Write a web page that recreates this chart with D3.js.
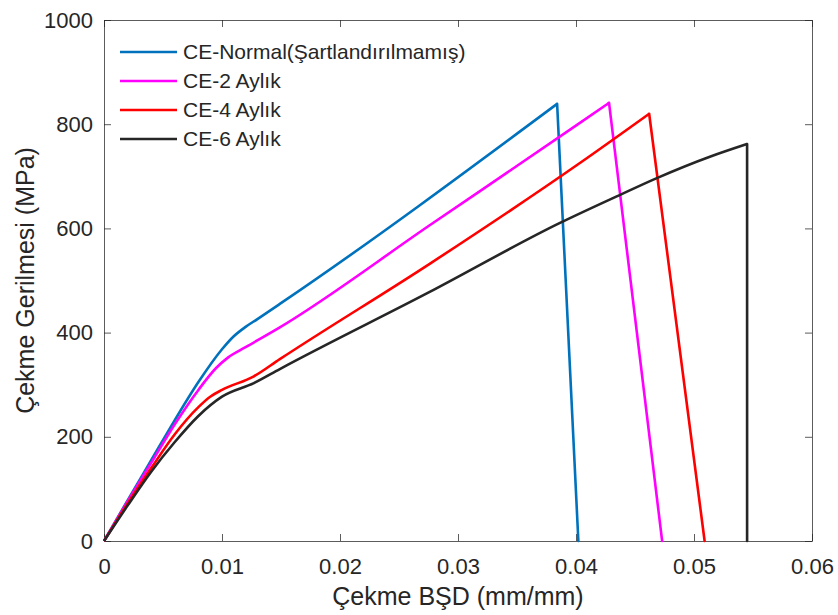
<!DOCTYPE html>
<html>
<head>
<meta charset="utf-8">
<script src="https://cdn.jsdelivr.net/npm/d3@7"></script>
<style>
  body { margin: 0; background: #fff; }
  svg { font-family: "Liberation Sans", Arial, sans-serif; }
</style>
</head>
<body>
<div id="chart"></div>
<script>
const width = 838;
const height = 615;

// series names and colours
const seriesNames = ["CE-Normal(Şartlandırılmamış)", "CE-2 Aylık", "CE-4 Aylık", "CE-6 Aylık"];
const seriesColors = ["#0072BD", "#FF00FF", "#FF0000", "#262626"];

// strain (mm/mm), stress (MPa); last point = after fracture
const normalData = [[0,0],[0.002,78],[0.004,155],[0.006,232],[0.008,305],[0.01,368],[0.011,393],[0.012,411],[0.013,426],[0.0149,455],[0.0384,839],[0.0402,0]];
const aylik2Data = [[0,0],[0.002,76],[0.004,150],[0.006,224],[0.008,290],[0.0095,332],[0.0105,352],[0.012,372],[0.0149,410],[0.0276,606],[0.0403,802],[0.0428,841],[0.0473,0]];
const aylik4Data = [[0,0],[0.002,72],[0.004,140],[0.006,205],[0.008,257],[0.009,277],[0.01,290],[0.0127,316],[0.0149,349],[0.0276,532],[0.0403,725],[0.0462,820],[0.0509,0]];
const aylik6Data = [[0,0],[0.002,68],[0.004,133],[0.006,190],[0.008,240],[0.01,277],[0.0127,303],[0.0149,330],[0.0276,478],[0.0386,610],[0.0437,664],[0.0468,696],[0.0514,738],[0.0545,762],[0.0545,0]];
const allData = [normalData, aylik2Data, aylik4Data, aylik6Data];

const xTicks = [0, 0.01, 0.02, 0.03, 0.04, 0.05, 0.06];
const yTicks = [0, 200, 400, 600, 800, 1000];

const margin = {left: 104, right: 26, top: 20, bottom: 74};

const svg = d3.select("#chart")
  .append("svg")
  .attr("width", width)
  .attr("height", height);

const x = d3.scaleLinear()
  .domain([0, 0.06])
  .range([margin.left, width - margin.right]);

const y = d3.scaleLinear()
  .domain([0, 1000])
  .range([height - margin.bottom, margin.top]);

const axisColor = "#262626";

// bottom axis, ticks inside
svg.append("g")
  .attr("transform", `translate(0,${y(0)})`)
  .call(d3.axisBottom(x).tickValues(xTicks).tickSizeInner(-7).tickSizeOuter(0).tickPadding(17)
    .tickFormat(d => d === 0 ? "0" : d3.format(".2f")(d)));

// left axis
svg.append("g")
  .attr("transform", `translate(${x(0)},0)`)
  .call(d3.axisLeft(y).tickValues(yTicks).tickSizeInner(-7).tickSizeOuter(0).tickPadding(11)
    .tickFormat(d3.format("d")));

// top and right box lines with ticks
svg.append("g")
  .attr("transform", `translate(0,${y(1000)})`)
  .call(d3.axisTop(x).tickValues(xTicks).tickSizeInner(-7).tickSizeOuter(0).tickFormat(""));
svg.append("g")
  .attr("transform", `translate(${x(0.06)},0)`)
  .call(d3.axisRight(y).tickValues(yTicks).tickSizeInner(-7).tickSizeOuter(0).tickFormat(""));

svg.selectAll(".domain, .tick line")
  .attr("stroke", axisColor)
  .attr("stroke-width", 1)
  .attr("stroke-opacity", 0.75);
svg.selectAll(".tick text")
  .attr("fill", axisColor)
  .style("font-size", "22px")
  .style("font-family", "'Liberation Sans', Arial, sans-serif");

// axis labels
svg.append("text")
  .attr("x", (x(0) + x(0.06)) / 2)
  .attr("y", 605)
  .attr("text-anchor", "middle")
  .attr("fill", axisColor)
  .style("font-size", "25px")
  .text("Çekme BŞD (mm/mm)");

svg.append("text")
  .attr("transform", `translate(34,${(y(0) + y(1000)) / 2}) rotate(-90)`)
  .attr("text-anchor", "middle")
  .attr("fill", axisColor)
  .style("font-size", "25px")
  .text("Çekme Gerilmesi (MPa)");

// curves: smooth rise, straight drop after fracture
const rise = d3.line()
  .x(d => x(d[0]))
  .y(d => y(d[1]))
  .curve(d3.curveMonotoneX);
const drop = d3.line()
  .x(d => x(d[0]))
  .y(d => y(d[1]));

allData.forEach((data, i) => {
  const n = data.length;
  svg.append("path")
    .datum(data.slice(0, n - 1))
    .attr("fill", "none")
    .attr("stroke", seriesColors[i])
    .attr("stroke-width", 2.6)
    .attr("d", rise);
  svg.append("path")
    .datum(data.slice(n - 2))
    .attr("fill", "none")
    .attr("stroke", seriesColors[i])
    .attr("stroke-width", 2.6)
    .attr("stroke-linecap", "round")
    .attr("d", drop);
});

// legend
const legend = svg.append("g");
seriesNames.forEach((name, i) => {
  const ly = 52 + i * 29;
  legend.append("line")
    .attr("x1", 120).attr("x2", 177)
    .attr("y1", ly).attr("y2", ly)
    .attr("stroke", seriesColors[i])
    .attr("stroke-width", 2.6);
  legend.append("text")
    .attr("x", 183)
    .attr("y", ly)
    .attr("dy", "0.35em")
    .attr("fill", axisColor)
    .style("font-size", "21px")
    .text(name);
});
</script>
</body>
</html>
